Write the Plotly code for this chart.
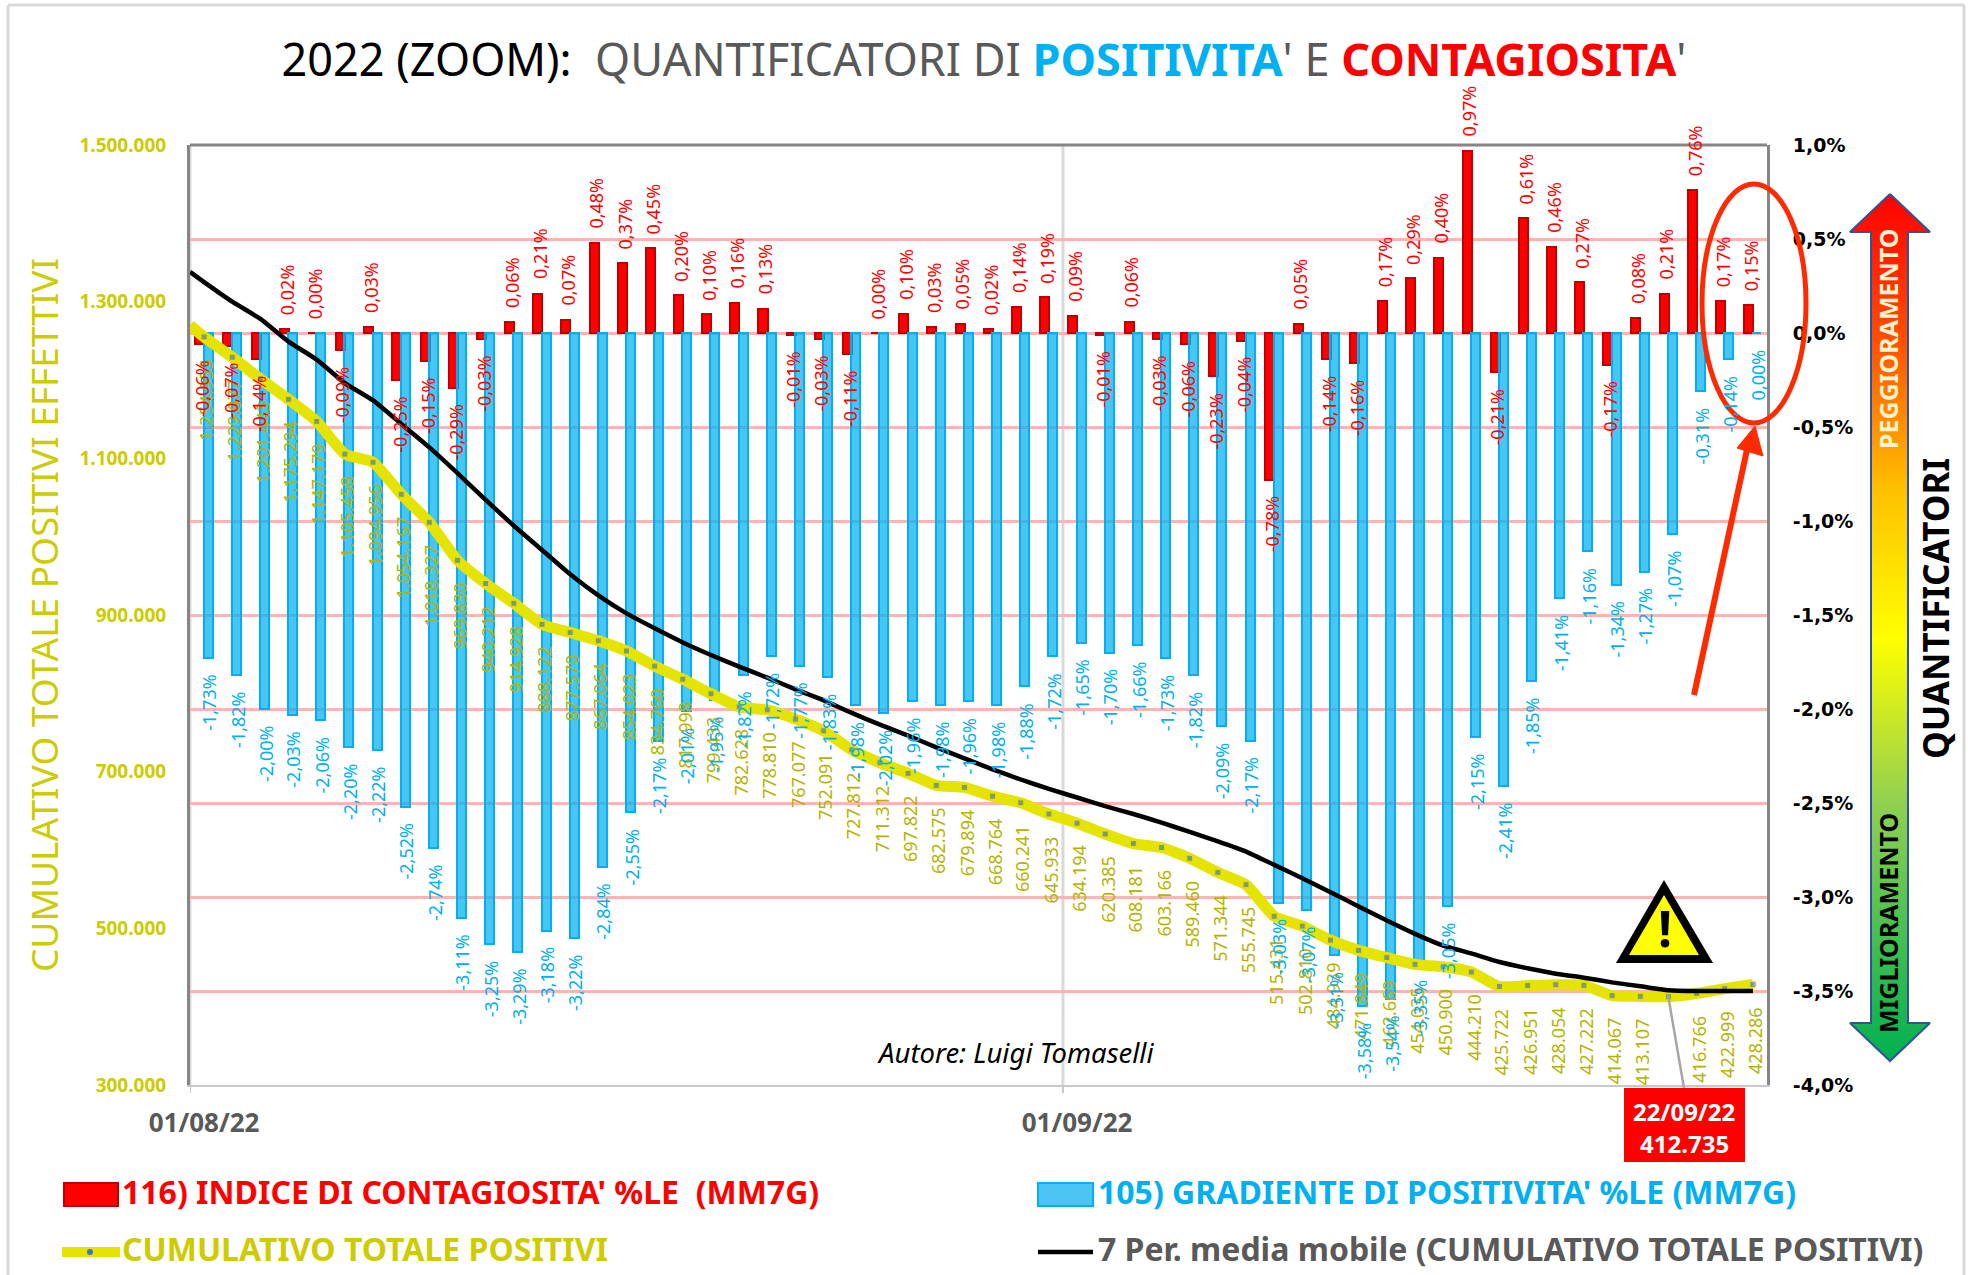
import plotly.graph_objects as go

W, H = 1968, 1275
PL, PR, PT, PB = 190, 1767, 145, 1085

days = list(range(1, 57))
x_tick_labels = ["01/08/22", "01/09/22"]
x_tick_days = [1, 32]
x_boundaries = [0.5, 31.5]
callout_day = 53

contagiosita = [-0.06, -0.07, -0.14, 0.02, 0.00, -0.09, 0.03, -0.25, -0.15, -0.29, -0.03, 0.06, 0.21, 0.07,
                0.48, 0.37, 0.45, 0.20, 0.10, 0.16, 0.13, -0.01, -0.03, -0.11, 0.00, 0.10, 0.03, 0.05, 0.02,
                0.14, 0.19, 0.09, -0.01, 0.06, -0.03, -0.06, -0.23, -0.04, -0.78, 0.05, -0.14, -0.16, 0.17,
                0.29, 0.40, 0.97, -0.21, 0.61, 0.46, 0.27, -0.17, 0.08, 0.21, 0.76, 0.17, 0.15]

positivita = [-1.73, -1.82, -2.00, -2.03, -2.06, -2.20, -2.22, -2.52, -2.74, -3.11, -3.25, -3.29, -3.18, -3.22,
              -2.84, -2.55, -2.17, -2.01, -1.95, -1.82, -1.72, -1.77, -1.83, -1.98, -2.02, -1.96, -1.98, -1.96,
              -1.98, -1.88, -1.72, -1.65, -1.70, -1.66, -1.73, -1.82, -2.09, -2.17, -3.03, -3.07, -3.31, -3.58,
              -3.54, -3.35, -3.05, -2.15, -2.41, -1.85, -1.41, -1.16, -1.34, -1.27, -1.07, -0.31, -0.14, 0.00]

cumulativo = [1254953, 1229077, 1201443, 1175294, 1147179, 1105458, 1094956, 1054167, 1018327, 969830, 940212,
              914928, 888122, 877570, 867064, 854023, 834760, 817998, 799433, 782628, 778810, 767077, 752091,
              727812, 711312, 697822, 682575, 679894, 668764, 660241, 645933, 634194, 620385, 608181, 603166,
              589460, 571344, 555745, 515431, 502810, 484939, 471849, 462669, 454035, 450900, 444210, 425722,
              426951, 428054, 427222, 414067, 413107, 412735, 416766, 422999, 428286]

cumulativo_inizio = 1270000
media_inizio = 1338000
media_mobile = [1325000, 1300000, 1278000, 1249000, 1226000, 1196000, 1174000, 1144000, 1114000, 1081000, 1047000,
                1014000, 983000, 952000, 925000, 902000, 883000, 865000, 849000, 834000, 820000, 805000, 791000,
                775000, 760000, 746000, 731000, 717000, 703000, 690000, 678000, 667000, 656000, 646000, 635000,
                623000, 611000, 598000, 581000, 564000, 546000, 528000, 510000, 493000, 478000, 468000, 457000,
                449000, 442000, 437000, 431000, 426000, 421000, 420000, 420000, 420000]

left_tick_vals = [1500000, 1300000, 1100000, 900000, 700000, 500000, 300000]
left_tick_text = ["1.500.000", "1.300.000", "1.100.000", "900.000", "700.000", "500.000", "300.000"]
right_tick_vals = [1.0, 0.5, 0.0, -0.5, -1.0, -1.5, -2.0, -2.5, -3.0, -3.5, -4.0]
right_tick_text = ["1,0%", "0,5%", "0,0%", "-0,5%", "-1,0%", "-1,5%", "-2,0%", "-2,5%", "-3,0%", "-3,5%", "-4,0%"]

RED = "#FF0000"
CYAN = "#00B0F0"
OLIVE = "#CCCC00"
LABEL_OLIVE = "#B4B400"
GRAY = "#595959"
ARROW_RED = "#FF2A00"
FONT = "Noto Sans"

def fx(p): return p / W
def fy(p): return 1 - p / H

fig = go.Figure()
fig.add_bar(x=days, y=contagiosita, name="116) INDICE DI CONTAGIOSITA' %LE (MM7G)", width=0.32, offset=-0.3125,
            marker=dict(color=RED, line=dict(color="#C00000", width=2)), xaxis="x", yaxis="y")
fig.add_bar(x=days, y=positivita, name="105) GRADIENTE DI POSITIVITA' %LE (MM7G)", width=0.32, offset=-0.018,
            marker=dict(color="rgba(0,176,240,0.72)", line=dict(color=CYAN, width=2)), xaxis="x", yaxis="y")
fig.add_scatter(x=[0.5] + days, y=[cumulativo_inizio] + cumulativo, name="CUMULATIVO TOTALE POSITIVI",
                mode="lines+markers", line=dict(color="#E4E400", width=11, shape="spline", smoothing=0.5),
                marker=dict(color="#5B7A9B", size=[0] + [6] * 56, symbol="square"), xaxis="x", yaxis="y2")
fig.add_scatter(x=[0.5] + days, y=[media_inizio] + media_mobile, name="7 Per. media mobile (CUMULATIVO TOTALE POSITIVI)",
                mode="lines", line=dict(color="#000000", width=4.5, shape="spline", smoothing=0.5),
                xaxis="x", yaxis="y2")

# gradient double arrow
ax_pts = [(1890, 194), (1930, 232), (1908, 232), (1908, 1023), (1930, 1023), (1890, 1061),
          (1850, 1023), (1871, 1023), (1871, 232), (1850, 232), (1890, 194)]
fig.add_scatter(x=[p[0] for p in ax_pts], y=[p[1] for p in ax_pts], mode="lines", fill="toself",
                line=dict(color="#2F5597", width=2), hoverinfo="skip", showlegend=False,
                fillgradient=dict(type="vertical", colorscale=[[0, "#00B050"], [0.30, "#92D050"], [0.486, "#FFFF00"],
                                                               [0.66, "#FFC000"], [0.83, "#FF5000"], [1, "#FF0000"]]),
                xaxis="x3", yaxis="y3")

ann = []
for d, v in zip(days, cumulativo):
    if d == callout_day:
        continue
    ann.append(dict(x=d, y=v, xref="x", yref="y2", text=f"{v:,}".replace(",", "."), textangle=-90, showarrow=False,
                    xanchor="center", yanchor="top", yshift=-20, xshift=2, font=dict(family=FONT, size=18, color=LABEL_OLIVE)))
for series, col, dx in ((positivita, CYAN, 5), (contagiosita, RED, -2)):
    for d, v in zip(days, series):
        up = v >= 0 and series is contagiosita
        ann.append(dict(x=d, y=v, xref="x", yref="y", text=f"{v:.2f}%".replace(".", ","), textangle=-90, showarrow=False,
                        xanchor="center", yanchor="bottom" if up else "top", yshift=12 if up else -14, xshift=dx,
                        font=dict(family=FONT, size=18, color=col)))

def text(x, y, s, size, color, bold=True, anchor="left", angle=0, italic=False):
    t = f"<b>{s}</b>" if bold else s
    if italic:
        t = f"<i>{t}</i>"
    ann.append(dict(x=fx(x), y=fy(y), xref="paper", yref="paper", text=t, showarrow=False, textangle=angle,
                    xanchor=anchor, yanchor="middle", font=dict(family=FONT, size=size, color=color)))

text(120, 1191, "116) INDICE DI CONTAGIOSITA' %LE&nbsp;&nbsp;(MM7G)", 32, RED)
text(1096, 1191, "105) GRADIENTE DI POSITIVITA' %LE (MM7G)", 32, CYAN)
text(120, 1248, "CUMULATIVO TOTALE POSITIVI", 32, OLIVE)
text(1096, 1248, "7 Per. media mobile (CUMULATIVO TOTALE POSITIVI)", 32, GRAY)
text(1015, 1052, "Autore: Luigi Tomaselli", 27.5, "#000000", bold=False, anchor="center", italic=True)
text(1684, 1111, "22/09/22", 24, "#FFFFFF", anchor="center")
text(1684, 1143, "412.735", 24, "#FFFFFF", anchor="center")
text(1665, 928, "!", 50, "#000000", anchor="center")
text(1888, 339, "PEGGIORAMENTO", 25, "#FFF2CC", anchor="center", angle=-90)
text(1888, 923, "MIGLIORAMENTO", 25, "#000000", anchor="center", angle=-90)
text(1935, 609, "QUANTIFICATORI", 35, "#000000", anchor="center", angle=-90)

def rect(x0, y0, x1, y1, fill, line=None, lw=0):
    return dict(type="rect", xref="paper", yref="paper", x0=fx(x0), x1=fx(x1), y0=fy(y0), y1=fy(y1),
                fillcolor=fill, line=dict(color=line or fill, width=lw), layer="above")

def seg(x0, y0, x1, y1, color, lw):
    return dict(type="line", xref="paper", yref="paper", x0=fx(x0), x1=fx(x1), y0=fy(y0), y1=fy(y1),
                line=dict(color=color, width=lw), layer="above")

def poly(pts, fill, line, lw):
    path = "M " + " L ".join(f"{fx(a):.5f},{fy(b):.5f}" for a, b in pts) + " Z"
    return dict(type="path", xref="paper", yref="paper", path=path, fillcolor=fill,
                line=dict(color=line, width=lw), layer="above")

shapes = [
    seg(8, 5, 8, 1275, "#D9D9D9", 3),
    seg(8, 5, 1964, 5, "#D9D9D9", 3),
    seg(1964, 5, 1964, 1275, "#D9D9D9", 3),
    seg(PL, PT, PR, PT, "#868686", 3),
    rect(64, 1183, 118, 1206, RED, "#C00000", 2),
    rect(1038, 1183, 1093, 1206, "#4CC5F5", CYAN, 2),
    seg(62, 1252, 120, 1252, "#E4E400", 10),
    dict(type="circle", xref="paper", yref="paper", x0=fx(87), x1=fx(93), y0=fy(1255), y1=fy(1249),
         fillcolor="#4472C4", line=dict(width=0), layer="above"),
    seg(1038, 1252, 1093, 1252, "#000000", 4.5),
    seg(1668, 995, 1684, 1088, "#A6A6A6", 2.5),
    rect(1624, 1088, 1745, 1162, RED),
    poly([(1664, 880), (1713, 963), (1616, 963)], "#000000", "#000000", 0),
    poly([(1664, 895), (1699, 955), (1629, 955)], "#FFFF00", "#FFFF00", 0),
    dict(type="circle", xref="paper", yref="paper", x0=fx(1702), x1=fx(1806), y0=fy(423), y1=fy(184),
         line=dict(color=ARROW_RED, width=5), layer="above"),
    seg(1694, 695, 1748, 445, ARROW_RED, 6),
    poly([(1755, 426), (1737, 448), (1763, 456)], ARROW_RED, ARROW_RED, 1),
]
# vertical month separators and their small ticks, placed through the x axis
for b in x_boundaries:
    shapes.append(dict(type="line", xref="x", yref="paper", x0=b, x1=b, y0=fy(PB), y1=fy(PT),
                       line=dict(color="#D9D9D9", width=3), layer="below"))
    shapes.append(dict(type="line", xref="x", yref="paper", x0=b, x1=b, y0=fy(PB + 8), y1=fy(PB),
                       line=dict(color="#C8C8C8", width=2), layer="above"))

fig.update_layout(
    width=W, height=H, autosize=False, margin=dict(l=0, r=0, t=0, b=0, pad=0, autoexpand=False),
    paper_bgcolor="white", plot_bgcolor="rgba(0,0,0,0)", barmode="overlay", showlegend=False, bargap=0,
    font=dict(family=FONT),
    title=dict(text="2022 (ZOOM):&nbsp;&nbsp;<span style='color:#595959'>QUANTIFICATORI DI </span>"
                    "<span style='color:#00B0F0'><b>POSITIVITA</b></span><span style='color:#595959'>' E </span>"
                    "<span style='color:#FF0000'><b>CONTAGIOSITA</b></span><span style='color:#595959'>'</span>",
               x=0.5, xref="paper", xanchor="center", y=fy(60), yref="container", yanchor="middle",
               font=dict(family=FONT, size=45, color="#000000")),
    xaxis=dict(domain=[fx(PL), fx(PR)], range=[0.5, 56.5], tickmode="array", tickvals=x_tick_days,
               ticktext=x_tick_labels, ticks="", showgrid=False, zeroline=False, anchor="y",
               tickfont=dict(family=FONT, size=26, color=GRAY, weight="bold"), ticklabelstandoff=14,
               showline=True, linecolor="#C8C8C8", linewidth=2),
    yaxis=dict(domain=[fy(PB), fy(PT)], range=[-4, 1], side="right", anchor="x", tickmode="array",
               tickvals=right_tick_vals, ticktext=right_tick_text, ticks="", showgrid=True,
               gridcolor="#FFB3B3", gridwidth=2.5, zeroline=True, zerolinecolor="#FFB3B3", zerolinewidth=2.5,
               showline=True, linecolor="#868686", linewidth=3, ticklabelstandoff=19,
               tickfont=dict(family="DejaVu Sans", size=19, color="#000000", weight="bold")),
    yaxis2=dict(domain=[fy(PB), fy(PT)], range=[300000, 1500000], side="left", anchor="x", overlaying="y",
                tickmode="array", tickvals=left_tick_vals, ticktext=left_tick_text, ticks="", showgrid=False,
                zeroline=False, showline=True, linecolor="#868686", linewidth=3, ticklabelstandoff=17,
                tickfont=dict(family=FONT, size=19, color=OLIVE, weight="bold"),
                title=dict(text="CUMULATIVO TOTALE POSITIVI EFFETTIVI", standoff=10,
                           font=dict(family=FONT, size=37, color=OLIVE))),
    xaxis3=dict(domain=[0, 1], range=[0, W], visible=False, anchor="y3", fixedrange=True),
    yaxis3=dict(domain=[0, 1], range=[H, 0], visible=False, anchor="x3", fixedrange=True),
    annotations=ann, shapes=shapes,
)

fig.write_html("out.html", config={"displayModeBar": False},
               post_script="document.body.style.margin='0';document.documentElement.style.overflow='hidden';")
